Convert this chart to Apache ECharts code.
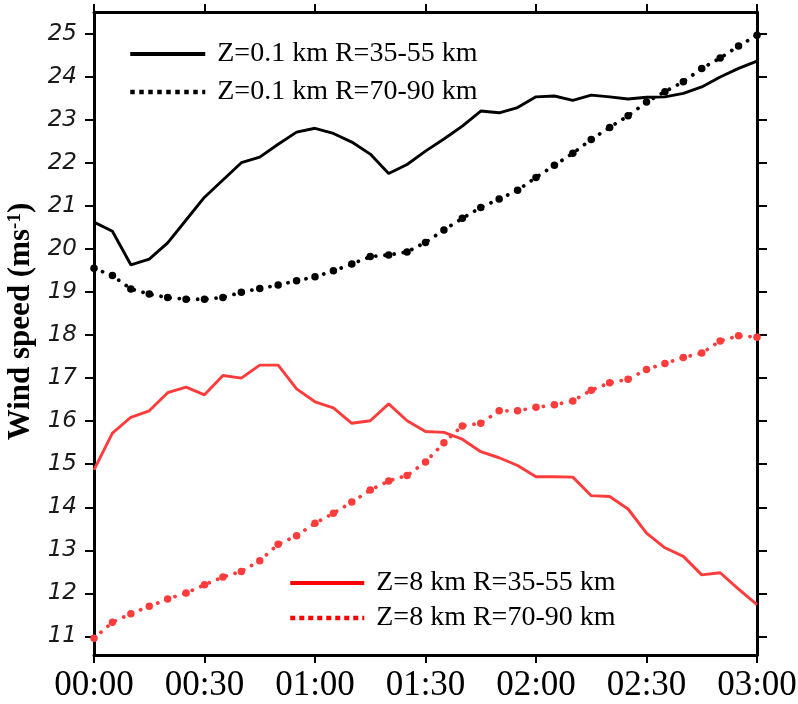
<!DOCTYPE html>
<html>
<head>
<meta charset="utf-8">
<script src="https://cdn.jsdelivr.net/npm/echarts@6/dist/echarts.min.js"></script>
<style>html,body{margin:0;padding:0;background:#fff}#c{width:798px;height:704px}</style>
</head>
<body>
<div id="c"></div>
<script>
// time in minutes since 00:00 (every 5 minutes)
const minutes = [0,5,10,15,20,25,30,35,40,45,50,55,60,65,70,75,80,85,90,95,100,105,110,115,120,125,130,135,140,145,150,155,160,165,170,175,180];
const xTickLabels = ['00:00','00:30','01:00','01:30','02:00','02:30','03:00'];
const yTickValues = [11,12,13,14,15,16,17,18,19,20,21,22,23,24,25];

const seriesNames = ['Z=0.1 km R=35-55 km','Z=0.1 km R=70-90 km','Z=8 km R=35-55 km','Z=8 km R=70-90 km'];

const z01_r35_55 = [20.62,20.41,19.63,19.76,20.14,20.67,21.20,21.60,22.00,22.13,22.43,22.71,22.80,22.68,22.48,22.20,21.75,21.96,22.27,22.55,22.85,23.20,23.16,23.28,23.53,23.55,23.45,23.57,23.53,23.48,23.52,23.53,23.61,23.76,23.99,24.19,24.36];
const z01_r70_90 = [19.55,19.38,19.07,18.95,18.87,18.83,18.83,18.87,18.99,19.08,19.16,19.26,19.35,19.49,19.65,19.82,19.86,19.93,20.15,20.44,20.71,20.96,21.16,21.36,21.66,21.94,22.22,22.54,22.82,23.09,23.41,23.65,23.88,24.19,24.43,24.71,24.96];
const z8_r35_55 = [14.87,15.72,16.09,16.24,16.66,16.79,16.61,17.06,17.00,17.30,17.30,16.75,16.45,16.31,15.95,16.01,16.40,16.01,15.76,15.74,15.58,15.29,15.15,14.97,14.71,14.71,14.70,14.27,14.25,13.96,13.40,13.06,12.86,12.43,12.48,12.10,11.74];
const z8_r70_90 = [10.96,11.33,11.53,11.70,11.87,12.01,12.20,12.38,12.51,12.76,13.14,13.34,13.63,13.86,14.12,14.40,14.61,14.74,15.05,15.50,15.89,15.95,16.24,16.24,16.32,16.38,16.47,16.72,16.89,16.97,17.20,17.34,17.48,17.58,17.86,17.98,17.95];

function pairs(vals){ return minutes.map((m,i)=>[m, vals[i]]); }

const BLACK = '#000000';
const RED = '#ff3c3c';

function solidSeries(name, vals, color){
  return {name, type:'line', data:pairs(vals), symbol:'none', color,
    lineStyle:{color, width:2.9}, z:3};
}
function dottedSeries(name, vals, color){
  return {name, type:'line', data:pairs(vals), symbol:'circle', symbolSize:7.5, color,
    itemStyle:{color},
    lineStyle:{color, width:3.8, type:[0.01, 9.2], cap:'round'}, z:3};
}

const serif = 'Liberation Serif, Times New Roman, serif';
const legendText = {fontFamily:serif, fontSize:28, color:'#000', lineHeight:30, padding:[0,0,0,7]};

const chart = echarts.init(document.getElementById('c'), null, {renderer:'canvas'});
chart.setOption({
  backgroundColor:'#fff',
  animation:false,
  grid:{left:94, right:41, top:12, bottom:49, containLabel:false, outerBoundsMode:'none'},
  legend:[
    {left:123, top:34, orient:'vertical', itemWidth:75, itemHeight:30, itemGap:8, selectedMode:false,
     itemStyle:{opacity:0}, textStyle:legendText,
     data:[{name:seriesNames[0], lineStyle:{width:4, type:'solid', color:BLACK}},
           {name:seriesNames[1], lineStyle:{width:4.5, type:[4.5,4.5], cap:'butt', color:BLACK}}]},
    {left:283, top:563, orient:'vertical', itemWidth:74, itemHeight:30, itemGap:5, selectedMode:false,
     itemStyle:{opacity:0}, textStyle:legendText,
     data:[{name:seriesNames[2], lineStyle:{width:4, type:'solid', color:'#ff0000'}},
           {name:seriesNames[3], lineStyle:{width:4.5, type:[5,4], cap:'butt', color:'#ff0000'}}]}
  ],
  xAxis:[
    {type:'value', position:'bottom', min:0, max:180, interval:30,
     axisLine:{show:true, onZero:false, lineStyle:{color:'#000', width:3}},
     axisTick:{show:true, length:8, lineStyle:{color:'#000', width:2}},
     axisLabel:{formatter:(v)=>xTickLabels[Math.round(v/30)], fontFamily:serif, fontSize:35, color:'#000', margin:13},
     splitLine:{show:false}},
    {type:'value', position:'top', min:0, max:180, interval:30,
     axisLine:{show:true, onZero:false, lineStyle:{color:'#000', width:3}},
     axisTick:{show:true, length:8, lineStyle:{color:'#000', width:2}},
     axisLabel:{show:false}, splitLine:{show:false}}
  ],
  yAxis:[
    {type:'value', position:'left', min:10.57, max:25.5,
     axisLine:{show:true, onZero:false, lineStyle:{color:'#000', width:3}},
     axisTick:{show:true, length:9, customValues:yTickValues, lineStyle:{color:'#000', width:2}},
     axisLabel:{customValues:yTickValues, fontFamily:'DejaVu Sans, sans-serif', fontStyle:'italic', fontSize:23, color:'#1a1a1a', margin:17},
     splitLine:{show:false},
     name:'Wind speed (ms{sup|-1})', nameLocation:'middle', nameRotate:90, nameGap:53,
     nameTextStyle:{fontFamily:serif, fontWeight:'bold', fontSize:31, color:'#000', padding:[0,0,0,24],
       rich:{sup:{fontFamily:serif, fontWeight:'bold', fontSize:19, color:'#000', verticalAlign:'top', padding:[0,0,12,0]}}}},
    {type:'value', position:'right', min:10.57, max:25.5,
     axisLine:{show:true, onZero:false, lineStyle:{color:'#000', width:3}},
     axisTick:{show:true, length:10, customValues:yTickValues, lineStyle:{color:'#000', width:2}},
     axisLabel:{show:false}, splitLine:{show:false}}
  ],
  series:[
    solidSeries(seriesNames[0], z01_r35_55, BLACK),
    dottedSeries(seriesNames[1], z01_r70_90, BLACK),
    solidSeries(seriesNames[2], z8_r35_55, RED),
    dottedSeries(seriesNames[3], z8_r70_90, RED)
  ]
});
</script>
</body>
</html>
